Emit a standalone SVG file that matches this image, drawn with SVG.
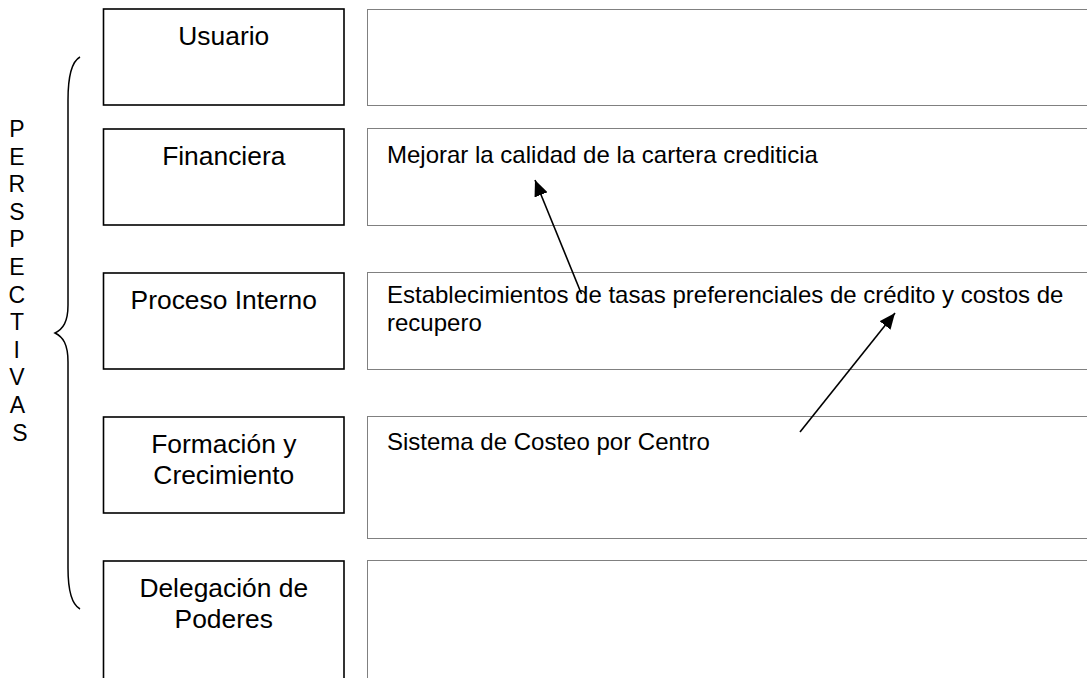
<svg xmlns="http://www.w3.org/2000/svg" width="1087" height="678" viewBox="0 0 1087 678">
<style>
  text { font-family: "Liberation Sans", Arial, sans-serif; fill: #000; }
  .lbl { font-size: 26.4px; text-anchor: middle; }
  .obj { font-size: 24px; }
  .side { font-size: 23px; text-anchor: middle; }
  .box { fill: #fff; stroke: #000; stroke-width: 1.6; }
  .dot { fill: none; stroke: #000; stroke-width: 1; stroke-dasharray: 1 1; }
  .conn { fill: none; stroke: #000; stroke-width: 1.6; marker-end: url(#ah); }
</style>
<defs>
  <marker id="ah" markerUnits="userSpaceOnUse" markerWidth="18" markerHeight="14" refX="16" refY="7" orient="auto">
    <path d="M0,0 L16,7 L0,14 z" fill="#000"/>
  </marker>
</defs>
<rect width="1087" height="678" fill="#fff"/>

<g id="perspectivas">
  <path d="M80,57 C71,62 68,78 68,100 L68,305 C68,322 63,329 55,333 C63,337 68,344 68,362 L68,568 C68,590 71,604 80,609" fill="none" stroke="#000" stroke-width="1.5"/>
  <text class="side" x="20">
    <tspan x="20" y="137">P</tspan>
    <tspan x="20" y="164.6">E</tspan>
    <tspan x="20" y="192.2">R</tspan>
    <tspan x="20" y="219.8">S</tspan>
    <tspan x="20" y="247.4">P</tspan>
    <tspan x="20" y="275">E</tspan>
    <tspan x="20" y="302.6">C</tspan>
    <tspan x="20" y="330.2">T</tspan>
    <tspan x="20" y="357.8">I</tspan>
    <tspan x="20" y="385.4">V</tspan>
    <tspan x="20" y="413">A</tspan>
    <tspan x="20" y="440.6">S</tspan>
  </text>
</g>

<g id="usuario">
  <rect class="box" x="103.5" y="9" width="240.5" height="96"/>
  <text class="lbl" x="223.75" y="44.5">Usuario</text>
</g>
<g id="financiera">
  <rect class="box" x="103.5" y="129" width="240.5" height="96"/>
  <text class="lbl" x="223.75" y="164.5">Financiera</text>
</g>
<g id="proceso-interno">
  <rect class="box" x="103.5" y="273" width="240.5" height="96"/>
  <text class="lbl" x="223.75" y="309">Proceso Interno</text>
</g>
<g id="formacion">
  <rect class="box" x="103.5" y="417" width="240.5" height="96"/>
  <text class="lbl" x="223.75" y="453">Formación y</text>
  <text class="lbl" x="223.75" y="483.5">Crecimiento</text>
</g>
<g id="delegacion">
  <rect class="box" x="103.5" y="561" width="240.5" height="130"/>
  <text class="lbl" x="223.75" y="597">Delegación de</text>
  <text class="lbl" x="223.75" y="627.5">Poderes</text>
</g>

<g id="obj-usuario">
  <rect class="dot" x="367.5" y="9.5" width="740" height="96"/>
</g>
<g id="obj-financiera">
  <rect class="dot" x="367.5" y="128.5" width="740" height="97"/>
  <text class="obj" x="387" y="162.5">Mejorar la calidad de la cartera crediticia</text>
</g>
<g id="obj-proceso">
  <rect class="dot" x="367.5" y="272.5" width="740" height="97"/>
  <text class="obj" x="387" y="303">Establecimientos de tasas preferenciales de crédito y costos de</text>
  <text class="obj" x="387" y="330.6">recupero</text>
</g>
<g id="obj-formacion">
  <rect class="dot" x="367.5" y="416.5" width="740" height="122"/>
  <text class="obj" x="387" y="449.5">Sistema de Costeo por Centro</text>
</g>
<g id="obj-delegacion">
  <rect class="dot" x="367.5" y="560.5" width="740" height="130"/>
</g>

<g id="connectors">
  <line class="conn" x1="581.5" y1="294" x2="535" y2="180"/>
  <line class="conn" x1="800" y1="432" x2="895" y2="313"/>
</g>
</svg>
